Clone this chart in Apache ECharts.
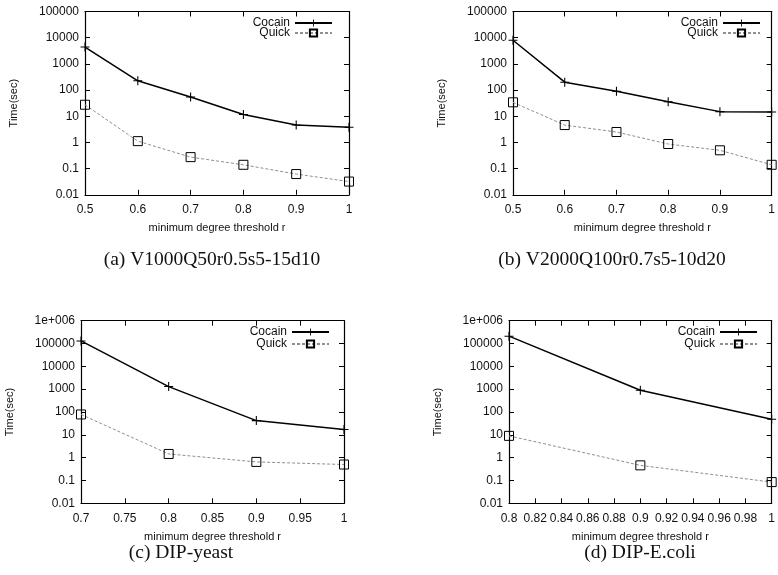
<!DOCTYPE html>
<html>
<head>
<meta charset="utf-8">
<script src="https://cdn.jsdelivr.net/npm/echarts@6/dist/echarts.min.js"></script>
<style>
html,body{margin:0;padding:0;background:#fff;}
#c{width:778px;height:575px;}
</style>
</head>
<body>
<div id="c"></div>
<script>
// ---- data ----
const seriesNames = ['Cocain', 'Quick'];
const xA = [0.5, 0.6, 0.7, 0.8, 0.9, 1.0];
const cocainA = [4400, 226, 54, 11.7, 4.6, 3.8];
const quickA = [27.5, 1.12, 0.275, 0.14, 0.062, 0.032];
const xB = [0.5, 0.6, 0.7, 0.8, 0.9, 1.0];
const cocainB = [8000, 200, 90, 36, 15, 14.5];
const quickB = [34, 4.6, 2.5, 0.87, 0.5, 0.14];
const xC = [0.7, 0.8, 0.9, 1.0];
const cocainC = [130000, 1300, 42, 17];
const quickC = [78, 1.45, 0.65, 0.5];
const xD = [0.8, 0.9, 1.0];
const cocainD = [210000, 900, 48];
const quickD = [9, 0.46, 0.085];
const yTicksTop = ['0.01', '0.1', '1', '10', '100', '1000', '10000', '100000'];
const yTicksBottom = ['0.01', '0.1', '1', '10', '100', '1000', '10000', '100000', '1e+006'];
const captions = ['(a) V1000Q50r0.5s5-15d10', '(b) V2000Q100r0.7s5-10d20', '(c) DIP-yeast', '(d) DIP-E.coli'];
const xName = 'minimum degree threshold r';
const yName = 'Time(sec)';

// ---- layout ----
const panels = [
  {x: xA, c: cocainA, q: quickA, xmin: 0.5, xmax: 1, step: 0.1, ymax: 100000, yt: yTicksTop,
   grid: {left: 85, top: 11.5, width: 264, height: 183.3}, legend: {right: 445, top: 12, gap: -2},
   cap: {x: 212, y: 260}},
  {x: xB, c: cocainB, q: quickB, xmin: 0.5, xmax: 1, step: 0.1, ymax: 100000, yt: yTicksTop,
   grid: {left: 513, top: 11.5, width: 264, height: 183.3}, legend: {right: 17, top: 12, gap: -2},
   cap: {x: 612, y: 260}},
  {x: xC, c: cocainC, q: quickC, xmin: 0.7, xmax: 1, step: 0.05, ymax: 1000000, yt: yTicksBottom,
   grid: {left: 81, top: 320.7, width: 263, height: 182.6}, legend: {right: 449, top: 321, gap: 0},
   cap: {x: 181, y: 553}},
  {x: xD, c: cocainD, q: quickD, xmin: 0.8, xmax: 1, step: 0.02, ymax: 1000000, yt: yTicksBottom,
   grid: {left: 509, top: 320.7, width: 263, height: 182.6}, legend: {right: 21, top: 321, gap: 0},
   cap: {x: 640, y: 553}}
];

const FONT = '"Liberation Sans", Arial, sans-serif';
const grids = [], xAxes = [], yAxes = [], series = [], legends = [], graphics = [];
const crossPath = 'path://M4.4,0H5.6V4.4H10V5.6H5.6V10H4.4V5.6H0V4.4H4.4Z';

panels.forEach((p, i) => {
  grids.push(Object.assign({show: false, containLabel: false}, p.grid));
  const tick = {show: true, inside: true, length: 5, lineStyle: {color: '#000', width: 1}};
  const line = {show: true, lineStyle: {color: '#000', width: 1.2}};
  xAxes.push({
    gridIndex: i, type: 'value', min: p.xmin, max: p.xmax, interval: p.step,
    position: 'bottom', axisLine: line, axisTick: tick, splitLine: {show: false},
    axisLabel: {color: '#111', fontSize: 12, fontFamily: FONT, margin: 9, showMinLabel: true, showMaxLabel: true},
    name: xName, nameLocation: 'middle', nameGap: 28,
    nameTextStyle: {color: '#111', fontSize: 11, fontFamily: FONT}
  });
  xAxes.push({
    gridIndex: i, type: 'value', min: p.xmin, max: p.xmax, interval: p.step,
    position: 'top', axisLine: line, axisTick: tick, splitLine: {show: false},
    axisLabel: {show: false}
  });
  yAxes.push({
    gridIndex: i, type: 'log', logBase: 10, min: 0.01, max: p.ymax,
    position: 'left', axisLine: line, axisTick: tick, splitLine: {show: false},
    axisLabel: {color: '#111', fontSize: 12, fontFamily: FONT, margin: 6,
      formatter: (v, idx) => p.yt[idx]},
    name: yName, nameLocation: 'middle', nameGap: 66, nameRotate: 90,
    nameTextStyle: {color: '#111', fontSize: 11, fontFamily: FONT}
  });
  yAxes.push({
    gridIndex: i, type: 'log', logBase: 10, min: 0.01, max: p.ymax,
    position: 'right', axisLine: line, axisTick: tick, splitLine: {show: false},
    axisLabel: {show: false}
  });
  series.push({
    name: seriesNames[0], type: 'line', xAxisIndex: 2 * i, yAxisIndex: 2 * i,
    data: p.x.map((v, k) => [v, p.c[k]]),
    symbol: crossPath, symbolSize: 9,
    itemStyle: {color: '#000'},
    lineStyle: {color: '#000', width: 1.5},
    clip: false, z: 3
  });
  series.push({
    name: seriesNames[1], type: 'line', xAxisIndex: 2 * i, yAxisIndex: 2 * i,
    data: p.x.map((v, k) => [v, p.q[k]]),
    symbol: 'rect', symbolSize: 9,
    itemStyle: {color: 'rgba(255,255,255,0)', borderColor: '#000', borderWidth: 1},
    lineStyle: {color: '#8f8f8f', width: 1, type: [3, 2]},
    clip: false, z: 2
  });
  legends.push({
    data: seriesNames, orient: 'vertical', align: 'right',
    right: p.legend.right, top: p.legend.top,
    itemWidth: 37, itemHeight: 9, itemGap: p.legend.gap,
    textStyle: {color: '#111', fontSize: 12, fontFamily: FONT, lineHeight: 11},
    selectedMode: false
  });
  graphics.push({
    type: 'text', x: p.cap.x, y: p.cap.y,
    style: {text: captions[i], fill: '#111', fontSize: 19.5, fontFamily: '"Liberation Serif", "DejaVu Serif", serif',
      textAlign: 'center', textVerticalAlign: 'middle'}
  });
});
// shift legends slightly right to match icon placement
legends[0].right = 440; legends[1].right = 12; legends[2].right = 443; legends[3].right = 15;

const chart = echarts.init(document.getElementById('c'), null, {renderer: 'canvas'});
chart.setOption({
  animation: false,
  backgroundColor: '#fff',
  grid: grids, xAxis: xAxes, yAxis: yAxes, series: series, legend: legends,
  graphic: graphics
});
</script>
</body>
</html>
